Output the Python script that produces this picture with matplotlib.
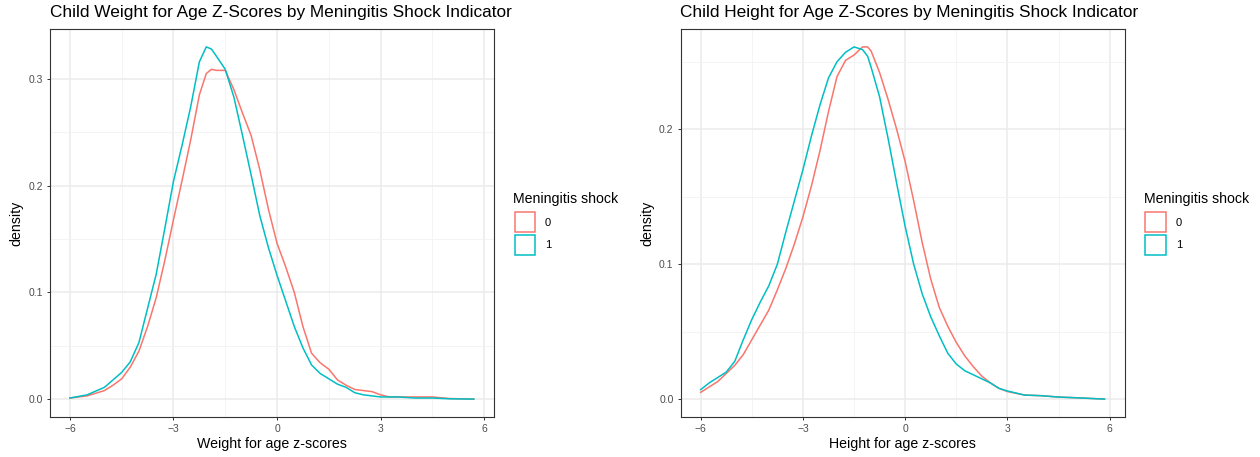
import matplotlib
matplotlib.use("Agg")
import matplotlib.pyplot as plt
from matplotlib.patches import Rectangle
from matplotlib.ticker import MultipleLocator, FormatStrFormatter

plt.rcParams['font.family'] = ['Liberation Sans', 'DejaVu Sans']

# weight for age z-scores (left panel)
weight_x = [-6, -5.5, -5, -4.75, -4.5, -4.25, -4, -3.75, -3.5, -3.25, -3, -2.75, -2.5, -2.25,
            -2.05, -1.9, -1.75, -1.5, -1.25, -1, -0.75, -0.5, -0.25, 0, 0.25, 0.5, 0.75, 1,
            1.25, 1.5, 1.75, 2, 2.25, 2.5, 2.75, 3, 3.25, 3.5, 4, 4.5, 5, 5.7]
weight_0 = [0.001, 0.003, 0.008, 0.013, 0.019, 0.030, 0.045, 0.068, 0.095, 0.130, 0.168, 0.205,
            0.243, 0.285, 0.305, 0.309, 0.308, 0.308, 0.290, 0.268, 0.247, 0.215, 0.178, 0.146,
            0.124, 0.100, 0.068, 0.043, 0.034, 0.028, 0.018, 0.013, 0.009, 0.008, 0.007, 0.004,
            0.002, 0.002, 0.002, 0.002, 0.0005, 0.0]
weight_1 = [0.001, 0.004, 0.011, 0.018, 0.025, 0.035, 0.053, 0.085, 0.117, 0.160, 0.204, 0.238,
            0.274, 0.316, 0.330, 0.328, 0.321, 0.309, 0.283, 0.247, 0.210, 0.172, 0.142, 0.116,
            0.092, 0.068, 0.048, 0.032, 0.024, 0.019, 0.014, 0.011, 0.006, 0.004, 0.003, 0.002,
            0.002, 0.002, 0.001, 0.001, 0.0003, 0.0]

# height for age z-scores (right panel)
height_x = [-6, -5.75, -5.5, -5.25, -5, -4.75, -4.5, -4.25, -4, -3.75, -3.5, -3.25, -3, -2.75,
            -2.5, -2.25, -2, -1.75, -1.5, -1.25, -1.1, -1, -0.75, -0.5, -0.25, 0, 0.25, 0.5,
            0.75, 1, 1.25, 1.5, 1.75, 2, 2.25, 2.5, 2.75, 3, 3.5, 4, 4.5, 5, 5.85]
height_0 = [0.005, 0.009, 0.013, 0.019, 0.025, 0.033, 0.044, 0.055, 0.066, 0.081, 0.097, 0.115,
            0.135, 0.158, 0.184, 0.213, 0.239, 0.251, 0.255, 0.261, 0.261, 0.258, 0.242, 0.222,
            0.200, 0.176, 0.147, 0.116, 0.089, 0.068, 0.054, 0.042, 0.032, 0.024, 0.017, 0.012,
            0.008, 0.0056, 0.003, 0.0025, 0.0015, 0.001, 0.0]
height_1 = [0.007, 0.012, 0.016, 0.020, 0.028, 0.044, 0.059, 0.072, 0.084, 0.100, 0.124, 0.147,
            0.170, 0.195, 0.218, 0.238, 0.250, 0.257, 0.261, 0.259, 0.254, 0.246, 0.224, 0.193,
            0.160, 0.128, 0.100, 0.078, 0.061, 0.047, 0.034, 0.026, 0.021, 0.018, 0.015, 0.012,
            0.008, 0.006, 0.003, 0.0025, 0.0015, 0.001, 0.0]

groups = ['0', '1']
colors = ['#F8766D', '#00BFC4']
titles = ['Child Weight for Age Z-Scores by Meningitis Shock Indicator',
          'Child Height for Age Z-Scores by Meningitis Shock Indicator']
xlabels = ['Weight for age z-scores', 'Height for age z-scores']

W, H = 1260, 457
fig = plt.figure(figsize=(W / 100, H / 100), dpi=100)

panels = [
    (weight_x, [weight_0, weight_1], 49.7, 494.0),
    (height_x, [height_0, height_1], 680.5, 1124.7),
]
top_px, bot_px = 29.3, 416.7

for i, (xs, ys, left_px, right_px) in enumerate(panels):
    ax = fig.add_axes([left_px / W, 1 - bot_px / H, (right_px - left_px) / W, (bot_px - top_px) / H])
    for y, c in zip(ys, colors):
        ax.plot(xs, y, color=c, lw=1.1, solid_joinstyle='round')
    ax.margins(0.05)
    ax.set_xticks([-6, -3, 0, 3, 6])
    ax.xaxis.set_minor_locator(MultipleLocator(1.5))
    ax.yaxis.set_major_locator(MultipleLocator(0.1))
    ax.yaxis.set_minor_locator(MultipleLocator(0.05))
    ax.yaxis.set_major_formatter(FormatStrFormatter('%.1f'))
    ax.grid(which='major', color='#EBEBEB', lw=1.1)
    ax.grid(which='minor', color='#F2F2F2', lw=0.6)
    ax.set_axisbelow(True)
    for s in ax.spines.values():
        s.set_color('#333333')
        s.set_linewidth(0.8)
    ax.tick_params(which='major', length=2.5, width=0.7, color='#333333',
                   labelsize=7.5, labelcolor='#4D4D4D', pad=2.5)
    ax.tick_params(which='minor', length=0)

    fig.text(left_px / W, 1 - 13 / H, titles[i], fontsize=12.4, ha='left', va='center')
    fig.text((left_px + right_px) / 2 / W, 1 - 444 / H, xlabels[i], fontsize=10.2,
             ha='center', va='center')
    fig.text((left_px - 33.5) / W, 1 - 223 / H, 'density', fontsize=10.2, rotation=90,
             ha='center', va='center')

    # legend drawn by hand: outlined key boxes like ggplot's density keys
    fig.text((right_px + 19) / W, 1 - 199 / H, 'Meningitis shock', fontsize=10.2,
             ha='left', va='center')
    for k, (g, c) in enumerate(zip(groups, colors)):
        y_top = 212 + k * 23
        fig.patches.append(Rectangle(((right_px + 20.5) / W, 1 - (y_top + 20) / H),
                                     20.5 / W, 20 / H, transform=fig.transFigure,
                                     facecolor='none', edgecolor=c, lw=1.1))
        fig.text((right_px + 51) / W, 1 - (y_top + 10.5) / H, g, fontsize=8,
                 ha='left', va='center')

fig.savefig('out.png', dpi=100)
